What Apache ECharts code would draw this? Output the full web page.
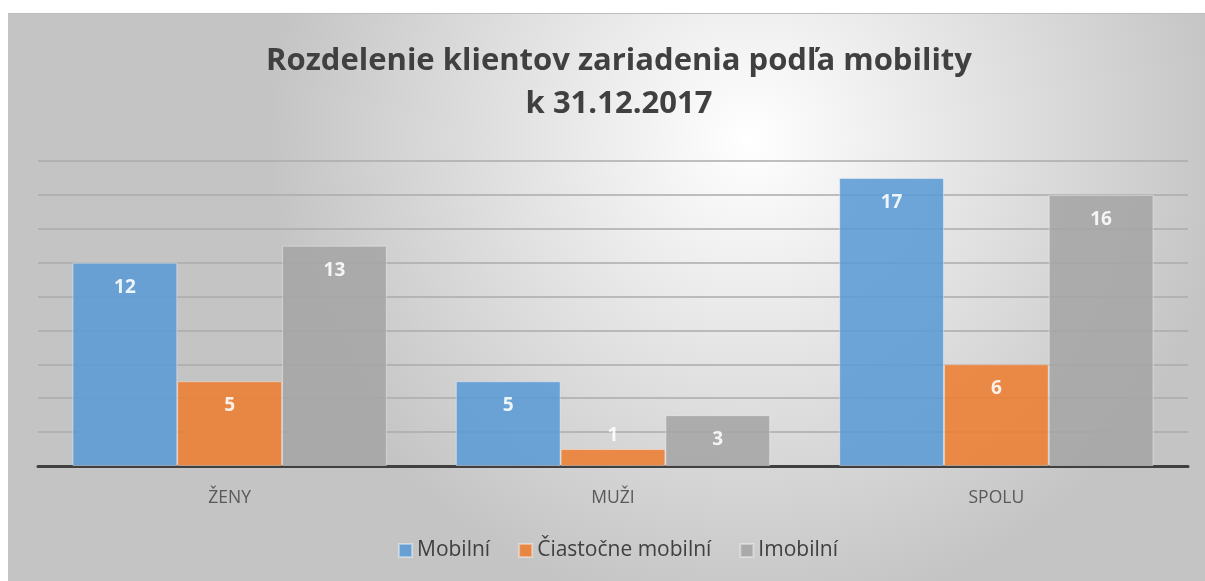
<!DOCTYPE html>
<html>
<head>
<meta charset="utf-8">
<script src="https://cdn.jsdelivr.net/npm/echarts@6/dist/echarts.min.js"></script>
<style>
html,body{margin:0;padding:0;background:#fff;width:1205px;height:581px;overflow:hidden;}
#chart{position:absolute;left:8px;top:13px;width:1197px;height:568px;border-top:1px solid #bdbdbd;box-sizing:border-box;}
</style>
</head>
<body>
<div id="chart"></div>
<script>
// mobility of clients, 31.12.2017
const categories=["ŽENY","MUŽI","SPOLU"];
const seriesNames=["Mobilní","Čiastočne mobilní","Imobilní"];
const mobilni=[12,5,17];
const ciastocne=[5,1,6];
const imobilni=[13,3,16];
const colors=["#5B9BD5","#ED7D31","#A5A5A5"];

const chart=echarts.init(document.getElementById("chart"));

function barSeries(name,values,color){
    return {
        name:name,
        type:"bar",
        // tiny bars get their label above the bar, like the original
        data:values.map(v=>v<2?{value:v,label:{position:"top",distance:4}}:v),
        barGap:"0%",
        barCategoryGap:"18%",
        itemStyle:{
            color:color,
            opacity:0.88,
            borderColor:"rgba(255,255,255,0.45)",
            borderWidth:1
        },
        label:{
            show:true,
            position:"insideTop",
            distance:15,
            color:"#fff",
            fontFamily:"Open Sans",
            fontWeight:"bold",
            fontSize:19
        }
    };
}

chart.setOption({
    backgroundColor:{
        type:"radial",
        x:0.62,
        y:0.22,
        r:0.85,
        colorStops:[
            {offset:0,color:"#ffffff"},
            {offset:1,color:"#c4c4c4"}
        ]
    },
    title:{
        text:"Rozdelenie klientov zariadenia podľa mobility\nk 31.12.2017",
        left:606,
        textAlign:"center",
        top:21,
        textStyle:{
            fontFamily:"Open Sans",
            fontWeight:"bold",
            fontSize:31,
            lineHeight:43,
            color:"#404040"
        }
    },
    legend:{
        bottom:15,
        left:385,
        itemWidth:13,
        itemHeight:13,
        itemGap:28,
        icon:"rect",
        textStyle:{
            fontFamily:"Open Sans",
            fontSize:21,
            color:"#404040"
        }
    },
    grid:{
        left:30,
        right:17,
        top:147,
        bottom:115
    },
    xAxis:{
        type:"category",
        data:categories,
        axisTick:{show:false},
        axisLine:{lineStyle:{color:"#404040",width:3}},
        axisLabel:{
            margin:23,
            fontFamily:"Open Sans",
            fontSize:17.5,
            color:"#595959"
        }
    },
    yAxis:{
        type:"value",
        min:0,
        max:18,
        interval:2,
        axisLabel:{show:false},
        axisLine:{show:false},
        axisTick:{show:false},
        splitLine:{lineStyle:{color:"#ababab",width:1.5}}
    },
    series:[
        barSeries(seriesNames[0],mobilni,colors[0]),
        barSeries(seriesNames[1],ciastocne,colors[1]),
        barSeries(seriesNames[2],imobilni,colors[2])
    ]
});
</script>
</body>
</html>
